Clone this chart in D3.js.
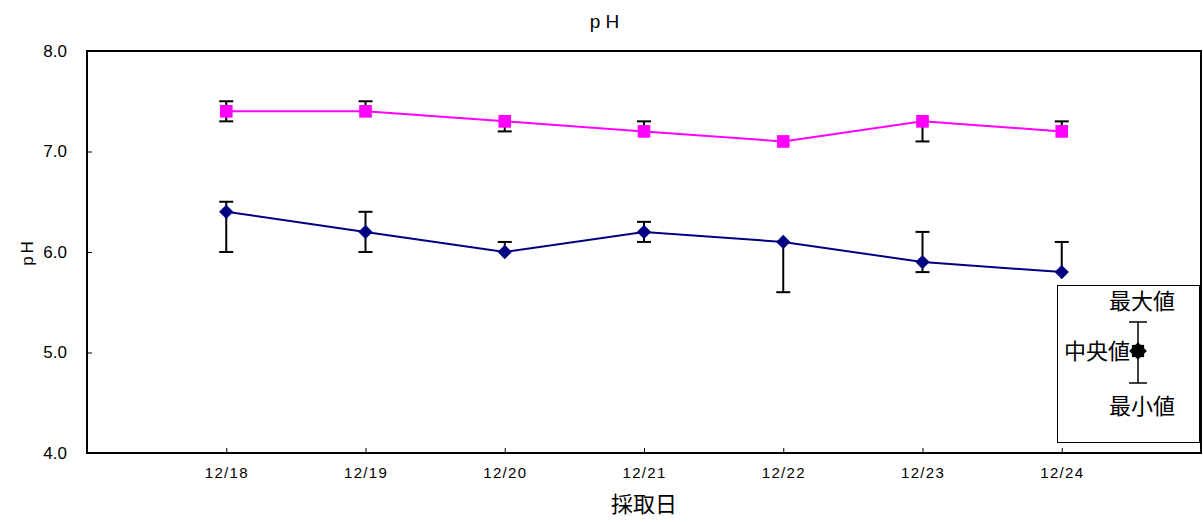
<!DOCTYPE html>
<html>
<head>
<meta charset="utf-8">
<script src="https://cdn.jsdelivr.net/npm/d3@7"></script>
<style>
  body { margin: 0; background: #fff; }
  text { font-family: "Liberation Sans", Arial, sans-serif; }
  .jp { font-family: "Noto Sans CJK JP", sans-serif; }
</style>
</head>
<body>
<div id="chart"></div>
<script>
const dates = ['12/18', '12/19', '12/20', '12/21', '12/22', '12/23', '12/24'];

// upper series (magenta squares)
const upperMed = [7.4, 7.4, 7.3, 7.2, 7.1, 7.3, 7.2];
const upperMax = [7.5, 7.5, 7.3, 7.3, 7.1, 7.3, 7.3];
const upperMin = [7.3, 7.4, 7.2, 7.2, 7.1, 7.1, 7.2];

// lower series (navy diamonds)
const lowerMed = [6.4, 6.2, 6.0, 6.2, 6.1, 5.9, 5.8];
const lowerMax = [6.5, 6.4, 6.1, 6.3, 6.1, 6.2, 6.1];
const lowerMin = [6.0, 6.0, 6.0, 6.1, 5.6, 5.8, 5.8];

const yTicks = [4.0, 5.0, 6.0, 7.0, 8.0];

const width = 1203;
const height = 522;
const plot = { left: 87, top: 51, right: 1201, bottom: 453 };

const svg = d3.select('#chart')
  .append('svg')
  .attr('width', width)
  .attr('height', height);

// points sit on tick marks, one empty slot at each end
const x = d3.scaleLinear()
  .domain([0, dates.length + 1])
  .range([plot.left, plot.right]);

const y = d3.scaleLinear()
  .domain([4, 8])
  .range([plot.bottom, plot.top]);

// frame
svg.append('rect')
  .attr('x', plot.left)
  .attr('y', plot.top)
  .attr('width', plot.right - plot.left)
  .attr('height', plot.bottom - plot.top)
  .attr('fill', 'none')
  .attr('stroke', '#000')
  .attr('stroke-width', 2);

// y axis
const yAxis = d3.axisLeft(y)
  .tickValues(yTicks)
  .tickFormat(d3.format('.1f'))
  .tickSizeInner(-5)
  .tickSizeOuter(0)
  .tickPadding(20);

svg.append('g')
  .attr('transform', `translate(${plot.left},0)`)
  .call(yAxis)
  .call(g => g.select('.domain').remove())
  .call(g => g.selectAll('.tick line').attr('stroke', '#000'))
  .call(g => g.selectAll('.tick text')
    .attr('font-size', 17)
    .attr('fill', '#000')
    .style('font-family', '"Liberation Sans", Arial, sans-serif'));

// x axis
const xAxis = d3.axisBottom(x)
  .tickValues(d3.range(1, dates.length + 1))
  .tickFormat(i => dates[i - 1])
  .tickSizeInner(-5)
  .tickSizeOuter(0)
  .tickPadding(14);

svg.append('g')
  .attr('transform', `translate(0,${plot.bottom})`)
  .call(xAxis)
  .call(g => g.select('.domain').remove())
  .call(g => g.selectAll('.tick line').attr('stroke', '#000'))
  .call(g => g.selectAll('.tick text')
    .attr('font-size', 15)
    .attr('letter-spacing', 1.3)
    .attr('fill', '#000')
    .style('font-family', '"Liberation Sans", Arial, sans-serif'));

// titles
svg.append('text')
  .attr('x', 607)
  .attr('y', 28)
  .attr('text-anchor', 'middle')
  .attr('font-size', 19)
  .attr('letter-spacing', 5)
  .text('pH');

svg.append('text')
  .attr('transform', 'translate(33,252) rotate(-90)')
  .attr('text-anchor', 'middle')
  .attr('font-size', 17)
  .attr('letter-spacing', 3)
  .text('pH');

svg.append('text')
  .attr('class', 'jp')
  .attr('x', 644)
  .attr('y', 512)
  .attr('text-anchor', 'middle')
  .attr('font-size', 22)
  .text('採取日');

// series
const series = [
  { med: upperMed, max: upperMax, min: upperMin, color: '#ff00ff', shape: 'square' },
  { med: lowerMed, max: lowerMax, min: lowerMin, color: '#000080', shape: 'diamond' }
];

const line = d3.line()
  .x((d, i) => x(i + 1))
  .y(d => y(d));

const capW = 7;

series.forEach(s => {
  svg.append('path')
    .datum(s.med)
    .attr('d', line)
    .attr('fill', 'none')
    .attr('stroke', s.color)
    .attr('stroke-width', 2);

  const bars = svg.append('g')
    .attr('stroke', '#000')
    .attr('stroke-width', 2);

  s.med.forEach((v, i) => {
    const cx = x(i + 1);
    if (s.max[i] === s.min[i]) return;
    bars.append('line')
      .attr('x1', cx).attr('x2', cx)
      .attr('y1', y(s.max[i])).attr('y2', y(s.min[i]));
    if (s.max[i] > v) {
      bars.append('line')
        .attr('x1', cx - capW).attr('x2', cx + capW)
        .attr('y1', y(s.max[i])).attr('y2', y(s.max[i]));
    }
    if (s.min[i] < v) {
      bars.append('line')
        .attr('x1', cx - capW).attr('x2', cx + capW)
        .attr('y1', y(s.min[i])).attr('y2', y(s.min[i]));
    }
  });

  const sym = s.shape === 'square'
    ? d3.symbol().type(d3.symbolSquare).size(160)
    : d3.symbol().type(d3.symbolDiamond2).size(130);

  svg.append('g')
    .selectAll('path')
    .data(s.med)
    .enter().append('path')
    .attr('d', sym)
    .attr('transform', (d, i) => `translate(${x(i + 1)},${y(d)})`)
    .attr('fill', s.color);
});

// legend box explaining the marks
const legend = svg.append('g');

legend.append('rect')
  .attr('x', 1057.5)
  .attr('y', 285.5)
  .attr('width', 142)
  .attr('height', 157)
  .attr('fill', '#fff')
  .attr('stroke', '#000')
  .attr('stroke-width', 1);

const lx = 1138;
legend.append('g')
  .attr('stroke', '#000')
  .attr('stroke-width', 1.5)
  .call(g => {
    g.append('line').attr('x1', lx).attr('x2', lx).attr('y1', 322).attr('y2', 383);
    g.append('line').attr('x1', lx - 9).attr('x2', lx + 9).attr('y1', 322).attr('y2', 322);
    g.append('line').attr('x1', lx - 9).attr('x2', lx + 9).attr('y1', 383).attr('y2', 383);
  });

legend.append('path')
  .attr('d', d3.symbol().type(d3.symbolSquare).size(150))
  .attr('transform', `translate(${lx},351)`)
  .attr('fill', '#000');
legend.append('path')
  .attr('d', d3.symbol().type(d3.symbolDiamond2).size(200))
  .attr('transform', `translate(${lx},351)`)
  .attr('fill', '#000');

legend.append('text')
  .attr('class', 'jp')
  .attr('x', 1142).attr('y', 309)
  .attr('text-anchor', 'middle')
  .attr('font-size', 22)
  .text('最大値');

legend.append('text')
  .attr('class', 'jp')
  .attr('x', 1130).attr('y', 359)
  .attr('text-anchor', 'end')
  .attr('font-size', 22)
  .text('中央値');

legend.append('text')
  .attr('class', 'jp')
  .attr('x', 1142).attr('y', 414)
  .attr('text-anchor', 'middle')
  .attr('font-size', 22)
  .text('最小値');
</script>
</body>
</html>
